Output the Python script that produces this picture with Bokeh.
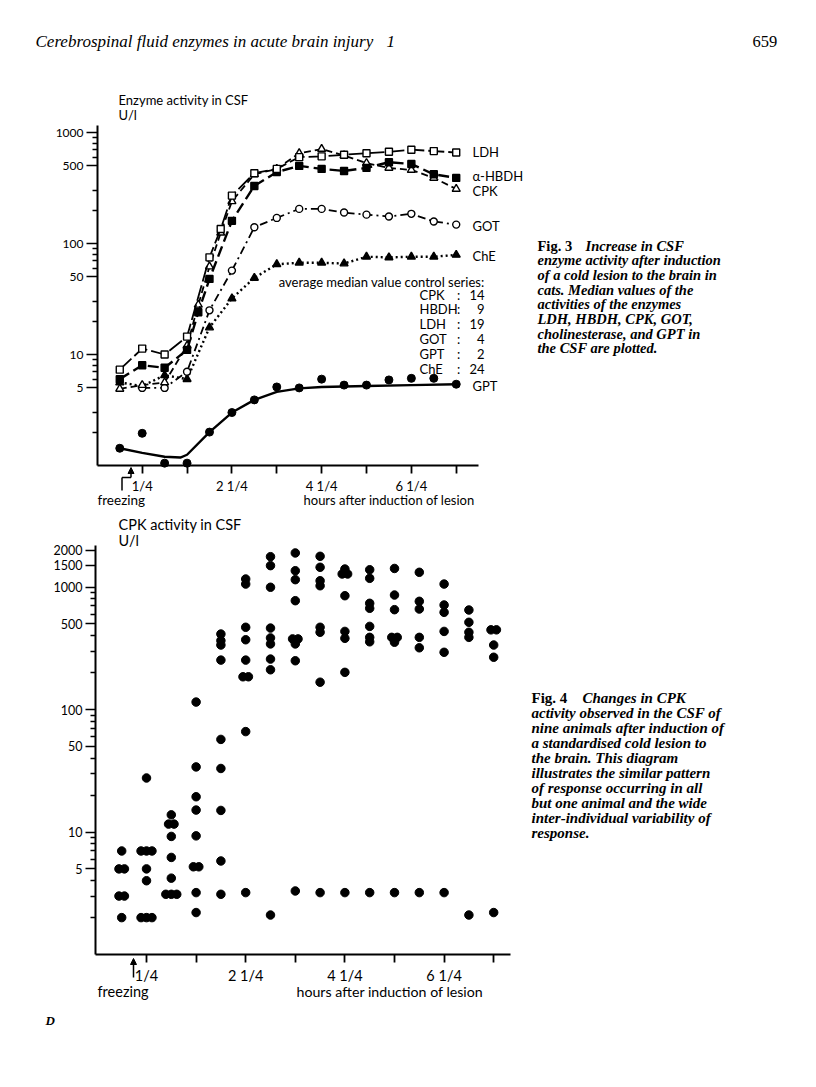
from bokeh.plotting import figure
from bokeh.models import FixedTicker, Label, Arrow, NormalHead, PrintfTickFormatter, Range1d
from bokeh.layouts import column
from bokeh.embed import file_html
from bokeh.resources import INLINE

SANS = "Lato"
SERIF = "Liberation Serif"

# ---------------- Fig. 3 : median enzyme activity in CSF (U/l) ----------------
LDH_T = [-0.25, 0.25, 0.75, 1.25, 1.75, 2.0, 2.25, 2.75, 3.25, 3.75, 4.25, 4.75, 5.25, 5.75, 6.25, 6.75, 7.25]
LDH_V = [7.3, 11.3, 10.0, 14.5, 75, 135, 270, 430, 470, 600, 610, 630, 650, 670, 700, 680, 660]

HBDH_T = [-0.25, 0.25, 0.75, 1.25, 1.5, 1.75, 2.25, 2.75, 3.25, 3.75, 4.25, 4.75, 5.25, 5.75, 6.25, 6.75, 7.25]
HBDH_V = [6.0, 8.0, 7.6, 11, 24, 48, 160, 330, 440, 500, 470, 450, 480, 540, 520, 420, 390]

CPK_T = [-0.25, 0.25, 0.75, 1.25, 1.5, 1.75, 2.0, 2.25, 2.75, 3.25, 3.75, 4.25, 4.75, 5.25, 5.75, 6.25, 6.75, 7.25]
CPK_V = [4.9, 5.3, 5.6, 12, 28, 62, 125, 240, 420, 470, 650, 710, 620, 530, 480, 460, 390, 310]

GOT_T = [0.25, 0.75, 1.25, 1.75, 2.25, 2.75, 3.25, 3.75, 4.25, 4.75, 5.25, 5.75, 6.25, 6.75, 7.25]
GOT_V = [5.0, 5.0, 7.0, 25, 57, 140, 170, 205, 205, 190, 182, 175, 185, 158, 148]

CHE_T = [-0.25, 0.25, 0.75, 1.25, 1.75, 2.25, 2.75, 3.25, 3.75, 4.25, 4.75, 5.25, 5.75, 6.25, 6.75, 7.25]
CHE_V = [5.6, 5.2, 6.5, 6.0, 17.5, 32, 49, 65, 67, 67, 66, 76, 75, 76, 76, 79]

GPT_T = [-0.25, 0.25, 0.75, 1.25, 1.75, 2.25, 2.75, 3.25, 3.75, 4.25, 4.75, 5.25, 5.75, 6.25, 6.75, 7.25]
GPT_V = [1.43, 1.95, 1.05, 1.05, 2.0, 3.0, 3.9, 5.1, 5.0, 6.0, 5.3, 5.3, 5.9, 6.1, 6.1, 5.4]
# smoothed GPT curve as drawn in the figure
GPT_FIT_T = [-0.25, 0.25, 0.75, 1.1, 1.25, 1.75, 2.25, 2.75, 3.25, 3.75, 4.25, 5.25, 6.25, 7.25]
GPT_FIT_V = [1.43, 1.3, 1.2, 1.18, 1.25, 2.0, 3.0, 3.9, 4.6, 4.95, 5.1, 5.2, 5.3, 5.4]

CONTROL_NAMES = ["CPK", "HBDH", "LDH", "GOT", "GPT", "ChE"]
CONTROL_VALUES = [14, 9, 19, 4, 2, 24]

# ---------------- Fig. 4 : individual CPK values (U/l), nine animals ----------------
F4_T = [-0.25, 0.25, 0.75, 1.25, 1.75, 2.25, 2.75, 3.25, 3.75, 4.25, 4.75, 5.25, 5.75, 6.25, 6.75, 7.25]
F4_V = [
    [7, 5, 5, 3, 3, 2],
    [27.6, 7, 7, 7, 5, 4, 2, 2, 2],
    [13.8, 11.6, 11.6, 9.2, 6.2, 4.2, 3.1, 3.1, 3.1],
    [115, 34, 19.4, 15.1, 9.3, 5.2, 5.2, 3.2, 2.2],
    [413, 365, 336, 253, 57, 33, 15, 5.8, 3.1],
    [1162, 1057, 469, 371, 253, 185, 185, 66, 3.2],
    [1768, 1494, 995, 462, 384, 343, 258, 211, 2.1],
    [1896, 1358, 1148, 773, 377, 377, 343, 250, 3.3],
    [1780, 1448, 1125, 1024, 469, 427, 167, 3.2],
    [1402, 1277, 1277, 849, 434, 381, 201, 3.2],
    [1383, 1177, 736, 670, 477, 388, 357, 3.2],
    [1417, 860, 653, 388, 388, 354, 3.2],
    [1318, 764, 661, 388, 319, 3.2],
    [1057, 713, 621, 434, 293, 3.2],
    [649, 515, 427, 388, 2.1],
    [447, 447, 336, 267, 2.2],
]

X_TICKS = [0.25, 1.25, 2.25, 3.25, 4.25, 5.25, 6.25, 7.25]
X_TICK_LABELS = {0.25: "1/4", 2.25: "2 1/4", 4.25: "4 1/4", 6.25: "6 1/4"}
Y3_TICKS = [5, 10, 50, 100, 500, 1000]
Y3_MINOR = [2, 3, 6, 7, 8, 9, 20, 30, 60, 70, 80, 90, 200, 300, 600, 700, 800, 900]
Y4_TICKS = [5, 10, 50, 100, 500, 1000, 1500, 2000]
Y4_MINOR = [2, 3, 4, 6, 7, 8, 9, 20, 30, 40, 60, 70, 80, 90, 200, 300, 400, 600, 700, 800, 900]

CAPTION3 = ["enzyme activity after induction", "of a cold lesion to the brain in",
            "cats. Median values of the", "activities of the enzymes",
            "LDH, HBDH, CPK, GOT,", "cholinesterase, and GPT in", "the CSF are plotted."]
CAPTION4 = ["activity observed in the CSF of", "nine animals after induction of",
            "a standardised cold lesion to", "the brain. This diagram",
            "illustrates the similar pattern", "of response occurring in all",
            "but one animal and the wide", "inter-individual variability of", "response."]

# ---------------- layout geometry (page pixels) ----------------
W = 816


def make_fig(top, h, ref_px, ref_hour, ppu, one_px, dec, L, R, T):
    """Frame covers the whole canvas; axes are pinned with fixed_location/bounds."""
    def px(x):
        return ref_hour + (x - ref_px) / ppu

    def py(y):
        return 10 ** ((one_px - y) / dec)

    p = figure(width=W, height=h, x_range=Range1d(px(0), px(W)),
               y_range=Range1d(py(top + h), py(top)), y_axis_type="log", title=None,
               output_backend="svg", toolbar_location=None,
               min_border=0, min_border_left=0, min_border_right=0,
               min_border_top=0, min_border_bottom=0)
    p.outline_line_color = None
    p.xgrid.visible = False
    p.ygrid.visible = False
    p.background_fill_color = "white"
    p.border_fill_color = "white"
    xa = p.xaxis[0]
    ya = p.yaxis[0]
    xa.fixed_location = 1
    xa.bounds = (px(L), px(R))
    ya.fixed_location = px(L)
    ya.bounds = (1, py(T))
    return p, px, py


def style_axes(p, yticks, yminor, xsize, ysize, ytick_len):
    xa = p.xaxis[0]
    xa.ticker = FixedTicker(ticks=X_TICKS, minor_ticks=[])
    xa.major_label_overrides = {t: X_TICK_LABELS.get(t, "") for t in X_TICKS}
    xa.major_tick_in = 0
    xa.major_tick_out = 8
    xa.axis_line_width = 2
    xa.major_tick_line_width = 1.8
    xa.major_label_text_font = SANS
    xa.major_label_text_font_size = xsize
    xa.major_label_text_color = "black"
    xa.major_label_standoff = 4
    ya = p.yaxis[0]
    ya.ticker = FixedTicker(ticks=yticks, minor_ticks=yminor)
    ya.formatter = PrintfTickFormatter(format="%d")
    ya.major_tick_in = 0
    ya.major_tick_out = ytick_len
    ya.minor_tick_in = 0
    ya.minor_tick_out = 5
    ya.axis_line_width = 2
    ya.major_tick_line_width = 1.6
    ya.minor_tick_line_width = 1.6
    ya.major_label_text_font = SANS
    ya.major_label_text_font_size = ysize
    ya.major_label_text_color = "black"
    ya.major_label_standoff = 3


def lab(p, x, y, text, size, font=SANS, align="left", style="normal"):
    p.add_layout(Label(x=x, y=y, text=text, text_font=font, text_font_size=size,
                       text_align=align, text_baseline="middle", text_font_style=style,
                       text_color="black"))


# ================= Fig. 3 =================
pa, ax, ay = make_fig(0, 515, 141.7, 0.25, 44.86, 465, 111.0, 97, 478, 125)
style_axes(pa, Y3_TICKS, Y3_MINOR, "13px", "12px", 11)


def series(p, t, v, dash, lw, marker, fill, size):
    p.line(t, v, line_color="black", line_width=lw, line_dash=dash)
    p.scatter(t, v, marker=marker, size=size, line_color="black", fill_color=fill, line_width=1.4)


series(pa, CHE_T, CHE_V, "2 3", 2.4, "triangle", "black", 8)
series(pa, GOT_T, GOT_V, "8 4 2 4", 1.8, "circle", "white", 7)
series(pa, CPK_T, CPK_V, "7 4", 1.8, "triangle", "white", 8)
series(pa, HBDH_T, HBDH_V, "11 5", 2.4, "square", "black", 7)
series(pa, LDH_T, LDH_V, "16 4", 1.8, "square", "white", 7)
pa.line(GPT_FIT_T, GPT_FIT_V, line_color="black", line_width=2.4)
pa.scatter(GPT_T, GPT_V, marker="circle", size=8, color="black")

F3 = "13px"
lab(pa, ax(35), ay(41), "Cerebrospinal fluid enzymes in acute brain injury", "17px", SERIF, style="italic")
lab(pa, ax(386), ay(41), "1", "17px", SERIF, style="italic")
lab(pa, ax(752), ay(41), "659", "16.5px", SERIF)
lab(pa, ax(118), ay(99), "Enzyme activity in CSF", F3)
lab(pa, ax(118), ay(114), "U/l", F3)
lab(pa, ax(97), ay(499), "freezing", "13.5px")
lab(pa, ax(303), ay(499), "hours after induction of lesion", F3)
for text, yy in [("LDH", 151), ("α-HBDH", 175), ("CPK", 190), ("GOT", 225), ("ChE", 255), ("GPT", 385)]:
    lab(pa, ax(472), ay(yy), text, F3)
lab(pa, ax(484), ay(281), "average median value control series:", F3, align="right")
for i, (nm, val) in enumerate(zip(CONTROL_NAMES, CONTROL_VALUES)):
    yy = 294 + i * 14.8
    lab(pa, ax(419), ay(yy), nm, F3)
    lab(pa, ax(458), ay(yy), ":", F3, align="center")
    lab(pa, ax(484), ay(yy), str(val), F3, align="right")
C3 = "14.5px"
lab(pa, ax(537), ay(245), "Fig. 3", C3, SERIF, style="bold")
lab(pa, ax(585), ay(245), "Increase in CSF", C3, SERIF, style="bold italic")
for i, line in enumerate(CAPTION3):
    lab(pa, ax(537), ay(245 + (i + 1) * 14.7), line, C3, SERIF, style="bold italic")
# freezing marker
pa.add_layout(Arrow(end=None, x_start=ax(121.5), y_start=ay(490), x_end=ax(121.5), y_end=ay(477),
                    line_width=1.5, line_color="black"))
pa.add_layout(Arrow(end=None, x_start=ax(121.5), y_start=ay(477), x_end=ax(130.5), y_end=ay(477),
                    line_width=1.5, line_color="black"))
pa.add_layout(Arrow(end=NormalHead(size=6, fill_color="black", line_color="black"),
                    x_start=ax(130.5), y_start=ay(477), x_end=ax(130.5), y_end=ay(467),
                    line_width=1.5, line_color="black"))

# ================= Fig. 4 =================
pb, bx, by = make_fig(515, 572, 146, 0.25, 49.6, 954, 122.5, 95, 510, 545)
style_axes(pb, Y4_TICKS, Y4_MINOR, "14.5px", "12.5px", 10)

xs, ys = [], []
for t, vals in zip(F4_T, F4_V):
    counts = {}
    for v in vals:
        counts[v] = counts.get(v, 0) + 1
    seen = {}
    for v in vals:
        k = counts[v]
        i = seen.get(v, 0)
        seen[v] = i + 1
        xs.append(t + (i - (k - 1) / 2) * 0.11)
        ys.append(v)
pb.scatter(xs, ys, marker="circle", size=8.5, color="black")

F4 = "14.5px"
lab(pb, bx(118), by(524), "CPK activity in CSF", F4)
lab(pb, bx(118), by(540), "U/l", F4)
lab(pb, bx(97), by(991), "freezing", F4)
lab(pb, bx(296), by(991), "hours after induction of lesion", "14.2px")
lab(pb, bx(45), by(1020), "D", "13px", SERIF, style="bold italic")
C4 = "15px"
lab(pb, bx(531), by(697), "Fig. 4", C4, SERIF, style="bold")
lab(pb, bx(582), by(697), "Changes in CPK", C4, SERIF, style="bold italic")
for i, line in enumerate(CAPTION4):
    lab(pb, bx(531), by(697 + (i + 1) * 15), line, C4, SERIF, style="bold italic")
pb.add_layout(Arrow(end=NormalHead(size=6, fill_color="black", line_color="black"),
                    x_start=bx(133), y_start=by(977), x_end=bx(133), y_end=by(958),
                    line_width=1.5, line_color="black"))

layout = column(pa, pb, spacing=0)
open("out.html", "w").write(file_html(layout, INLINE))
